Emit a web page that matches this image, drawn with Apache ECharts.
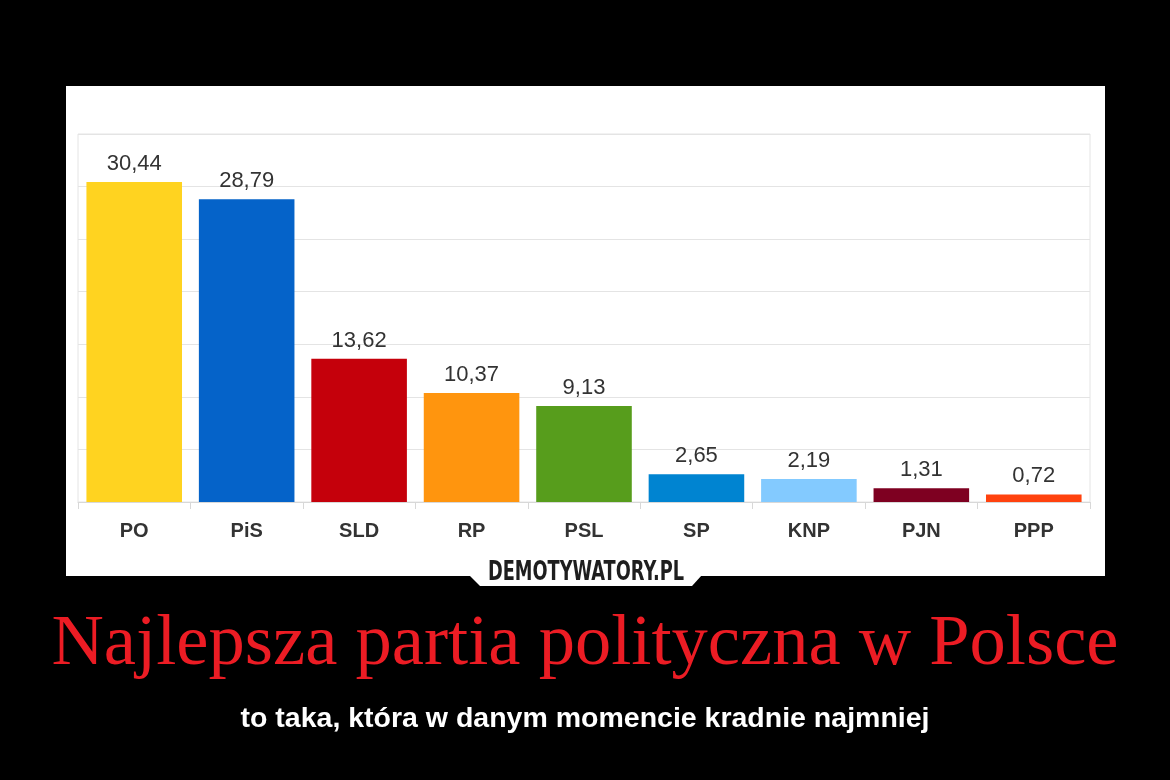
<!DOCTYPE html>
<html>
<head>
<meta charset="utf-8">
<script src="https://cdn.jsdelivr.net/npm/echarts@6/dist/echarts.min.js"></script>
<style>
    html, body { margin: 0; padding: 0; background: #000; }
    #chart { width: 1170px; height: 780px; }
</style>
</head>
<body>
<div id="chart"></div>
<script>
// partie i wyniki (%)
const parties = ['PO', 'PiS', 'SLD', 'RP', 'PSL', 'SP', 'KNP', 'PJN', 'PPP']
const results = [30.44, 28.79, 13.62, 10.37, 9.13, 2.65, 2.19, 1.31, 0.72]
const barColors = ['#ffd320', '#0563c9', '#c5000b', '#ff950e', '#579d1c', '#0084d1', '#83caff', '#7e0021', '#ff420e']
const yMax = 35
const yStep = 5

const chart = echarts.init(document.getElementById('chart'))

const fmt = v => v.toFixed(2).replace('.', ',')

const option = {
    backgroundColor: '#000',
    animation: false,
    title: [
        {
            text: 'Najlepsza partia polityczna w Polsce',
            left: 'center',
            top: 603,
            textStyle: {
                color: '#ec1c24',
                fontFamily: 'Liberation Serif',
                fontWeight: 'normal',
                fontSize: 72.5
            }
        },
        {
            text: 'to taka, która w danym momencie kradnie najmniej',
            left: 'center',
            top: 700,
            textStyle: {
                color: '#fff',
                fontFamily: 'Liberation Sans',
                fontWeight: 'bold',
                fontSize: 28.5
            }
        }
    ],
    graphic: [
        // biały panel
        {
            type: 'rect',
            z: -10,
            shape: { x: 66, y: 86, width: 1039, height: 490 },
            style: { fill: '#fff' }
        },
        // zakładka z logo
        {
            type: 'polygon',
            z: -10,
            shape: { points: [[469, 575], [702, 575], [692, 586], [480, 586]] },
            style: { fill: '#fff' }
        },
        {
            type: 'text',
            z: 10,
            x: 586,
            y: 573,
            scaleX: 0.76,
            style: {
                text: 'DEMOTYWATORY.PL',
                x: 0,
                y: 0,
                textAlign: 'center',
                textVerticalAlign: 'middle',
                fill: '#1e1e1e',
                fontFamily: 'DejaVu Sans Condensed',
                fontWeight: 'bold',
                fontSize: 26
            }
        }
    ],
    grid: {
        left: 78,
        right: 80,
        top: 134,
        bottom: 278,
        show: true,
        borderColor: '#e4e4e4',
        borderWidth: 1
    },
    xAxis: {
        type: 'category',
        data: parties,
        axisLine: { lineStyle: { color: '#d8d8d8' } },
        axisTick: { show: true, length: 7, lineStyle: { color: '#d8d8d8' } },
        axisLabel: {
            color: '#333',
            fontFamily: 'Liberation Sans',
            fontWeight: 'bold',
            fontSize: 20,
            margin: 19
        }
    },
    yAxis: {
        type: 'value',
        min: 0,
        max: yMax,
        interval: yStep,
        axisLine: { show: false },
        axisTick: { show: false },
        axisLabel: { show: false },
        splitLine: { lineStyle: { color: '#e4e4e4', width: 1 } }
    },
    series: [
        {
            type: 'bar',
            barWidth: '85%',
            data: results.map((v, i) => ({
                value: v,
                itemStyle: { color: barColors[i] }
            })),
            label: {
                show: true,
                position: 'top',
                distance: 7,
                color: '#333',
                fontFamily: 'Liberation Sans',
                fontSize: 22,
                formatter: p => fmt(p.value)
            }
        }
    ]
}

chart.setOption(option)
</script>
</body>
</html>
